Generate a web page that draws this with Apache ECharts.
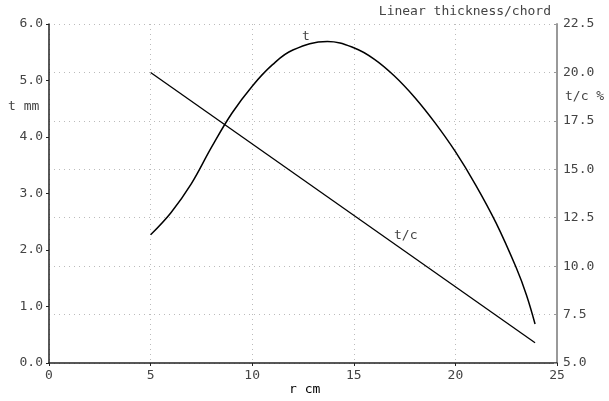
<!DOCTYPE html>
<html>
<head>
<meta charset="utf-8">
<script src="https://cdn.jsdelivr.net/npm/echarts@6/dist/echarts.min.js"></script>
<style>
  html, body { margin: 0; padding: 0; background: #fff; }
  #chart { width: 609px; height: 401px; }
</style>
</head>
<body>
<div id="chart"></div>
<script>
// thickness t (mm) against radius r (cm)
var rThick = [5, 6, 7, 8, 9, 10, 11, 12, 13.7, 15, 16, 17, 18, 19, 20, 21, 22, 23, 23.5, 23.92];
var tValues = [2.27, 2.66, 3.17, 3.82, 4.42, 4.9, 5.28, 5.54, 5.69, 5.58, 5.38, 5.08,
  4.7, 4.25, 3.74, 3.15, 2.48, 1.68, 1.2, 0.69];
// thickness/chord ratio (%), a straight line
var rRatio = [5.0, 23.92];
var tcValues = [20.0, 6.05];

var font = "'DejaVu Sans Mono', monospace";
var textCol = "#444";

var chart = echarts.init(document.getElementById("chart"));

var option = {
  animation: false,
  grid: { left: 49, right: 52, top: 24, bottom: 38 },
  graphic: [
    { type: "text", right: 58, top: 5, style: { text: "Linear thickness/chord", font: "13px " + font, fill: textCol } },
    { type: "text", left: 8, top: 100, style: { text: "t mm", font: "13px " + font, fill: textCol } },
    { type: "text", left: 565, top: 90, style: { text: "t/c %", font: "13px " + font, fill: textCol } },
    { type: "text", left: 289, top: 383, style: { text: "r cm", font: "13px " + font, fill: "#000" } },
    { type: "text", left: 302, top: 30, style: { text: "t", font: "13px " + font, fill: textCol } },
    { type: "text", left: 394, top: 229, style: { text: "t/c", font: "13px " + font, fill: textCol } }
  ],
  xAxis: {
    type: "value",
    min: 0,
    max: 25,
    interval: 5,
    axisLine: { lineStyle: { color: "#222", width: 1.5 } },
    axisTick: { show: true, length: 3, lineStyle: { color: "#222" } },
    axisLabel: { margin: 6, fontFamily: font, fontSize: 13, color: textCol },
    splitLine: { show: true, lineStyle: { type: [1, 4], color: "#bbb" } }
  },
  yAxis: [
    {
      type: "value",
      min: 0,
      max: 6,
      interval: 1,
      axisLine: { show: true, lineStyle: { color: "#222", width: 1.5 } },
      axisTick: { show: true, length: 3, lineStyle: { color: "#222" } },
      axisLabel: {
        margin: 6, fontFamily: font, fontSize: 13, color: textCol,
        formatter: function (v) { return v.toFixed(1); }
      },
      splitLine: { show: false }
    },
    {
      type: "value",
      position: "right",
      min: 5,
      max: 22.5,
      interval: 2.5,
      axisLine: { show: true, lineStyle: { color: "#999", width: 2 } },
      axisTick: { show: true, length: 3, inside: true, lineStyle: { color: "#999" } },
      axisLabel: {
        margin: 6, fontFamily: font, fontSize: 13, color: textCol,
        formatter: function (v) { return v.toFixed(1); }
      },
      splitLine: { show: true, lineStyle: { type: [1, 4], color: "#bbb" } }
    }
  ],
  series: [
    {
      name: "t",
      type: "line",
      yAxisIndex: 0,
      smooth: 0.4,
      symbol: "none",
      lineStyle: { color: "#000", width: 1.5 },
      data: rThick.map(function (r, i) { return [r, tValues[i]]; })
    },
    {
      name: "t/c",
      type: "line",
      yAxisIndex: 1,
      symbol: "none",
      lineStyle: { color: "#000", width: 1.3 },
      data: rRatio.map(function (r, i) { return [r, tcValues[i]]; })
    }
  ]
};
chart.setOption(option);
</script>
</body>
</html>
